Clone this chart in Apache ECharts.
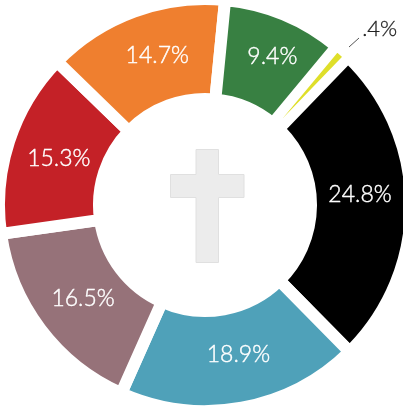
<!DOCTYPE html>
<html>
<head>
<meta charset="utf-8">
<script src="https://cdn.jsdelivr.net/npm/echarts@6/dist/echarts.min.js"></script>
<style>
html, body { margin: 0; padding: 0; background: #fff; }
#chart { width: 403px; height: 406px; }
</style>
</head>
<body>
<div id="chart"></div>
<script>
const labels = ['24.8%', '18.9%', '16.5%', '15.3%', '14.7%', '9.4%', '.4%']
// slice sizes, they don't quite follow the printed labels
const sliceShares = [25.4, 19.05, 16.1, 14.5, 14.3, 9.5, 1.17]
const colors = ['#000000', '#4fa1b9', '#967279', '#c42127', '#ef7f2f', '#388042', '#dfdf2a']
const labelNudges = [[-4, -10], [5, -7], [5, -2], [5, 3], [7, 0], [6, -2], [0, 0]]

const chart = echarts.init(document.getElementById('chart'))

chart.setOption({
  animation: false,
  series: [
    {
      type: 'pie',
      center: [205, 205],
      radius: [106, 206],
      startAngle: 46,
      clockwise: true,
      itemStyle: {
        borderColor: '#fff',
        borderWidth: 12,
        borderJoin: 'miter'
      },
      label: {
        position: 'inside',
        color: '#fff',
        fontFamily: 'Lato',
        fontWeight: 300,
        fontSize: 23,
        textBorderColor: '#fff',
        textBorderWidth: 0.4,
        formatter: p => p.name
      },
      labelLine: { show: false },
      data: sliceShares.map((v, i) => ({
        value: v,
        name: labels[i],
        itemStyle: i === 6 ? { color: colors[i], borderWidth: 8.5 } : { color: colors[i] },
        label: i === 6 ? { show: false } : { offset: labelNudges[i] }
      }))
    }
  ],
  graphic: [
    { type: 'text', left: 362, top: 18, style: { text: labels[6], fontFamily: 'Lato', fontWeight: 300, fontSize: 22, fill: '#222', stroke: '#222', lineWidth: 0.3 } },
    { type: 'line', shape: { x1: 349, y1: 47, x2: 359, y2: 38 }, style: { stroke: '#555', lineWidth: 1 } },
    {
      type: 'polygon',
      shape: { points: [[196, 149.5], [218.5, 149.5], [218.5, 174.5], [244, 174.5], [244, 197.5], [218.5, 197.5], [218.5, 262.5], [196, 262.5], [196, 197.5], [170.5, 197.5], [170.5, 174.5], [196, 174.5]] },
      style: { fill: '#ececec', stroke: '#e0e0e0', lineWidth: 1 }
    }
  ]
})
</script>
</body>
</html>
